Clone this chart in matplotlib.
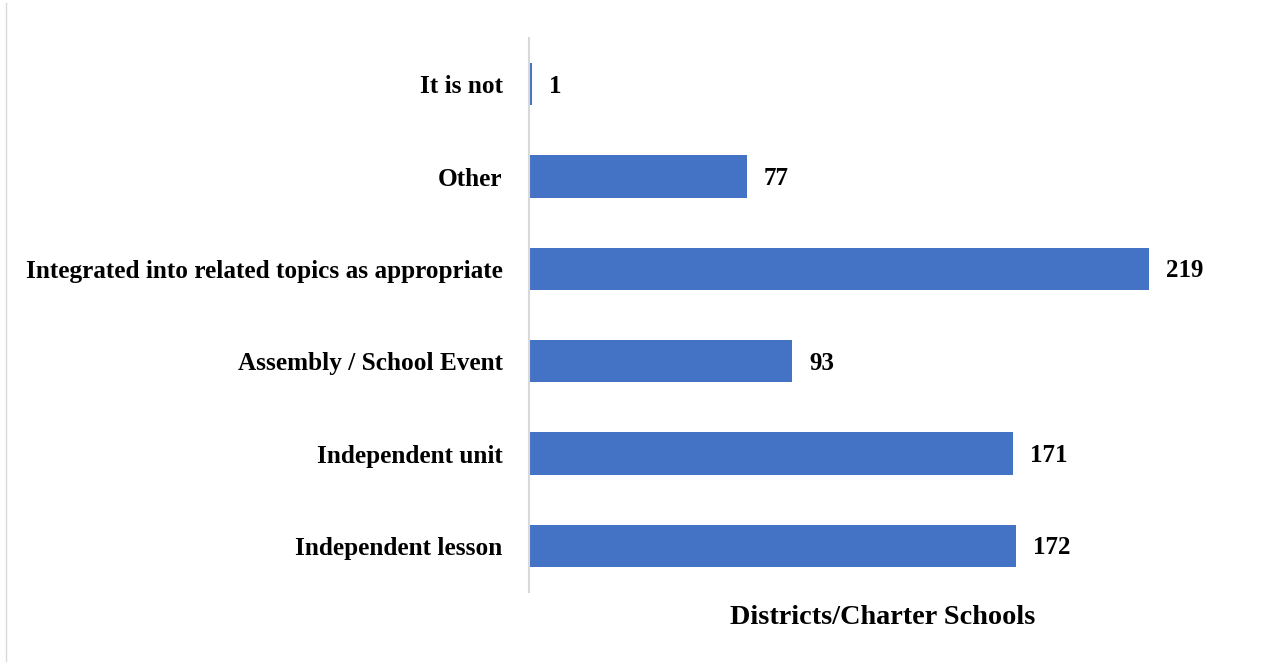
import matplotlib
matplotlib.use("Agg")
import matplotlib.pyplot as plt
from matplotlib.lines import Line2D

categories = ["Independent lesson", "Independent unit", "Assembly / School Event",
              "Integrated into related topics as appropriate", "Other", "It is not"]
values = [172, 171, 93, 219, 77, 1]
xlabel = "Districts/Charter Schools"
bar_color = "#4472C4"

plt.rcParams['font.family'] = ['Liberation Serif', 'DejaVu Serif']

fig = plt.figure(figsize=(12.68, 6.62), dpi=100)
ax = fig.add_axes([529/1268, 1 - 592/662, 708/1268, 554/662])

ypos = list(range(len(categories)))
ax.barh(ypos, values, height=0.455, color=bar_color)
ax.set_xlim(0, 250)
ax.set_ylim(-0.5, len(categories) - 0.5)
ax.set_yticks(ypos)
ax.set_yticklabels(categories, fontsize=18.2, fontweight='bold')
ax.tick_params(axis='y', length=0, pad=19)
ax.set_xticks([])
for s in ['top', 'right', 'bottom']:
    ax.spines[s].set_visible(False)
ax.spines['left'].set_color('#D9D9D9')
ax.spines['left'].set_linewidth(1.5)
ax.spines['left'].set_zorder(5)

for y, v in zip(ypos, values):
    ax.annotate(str(v), (v, y), xytext=(17, -2), textcoords='offset pixels',
                va='center', ha='left', fontsize=18, fontweight='bold')

ax.set_xlabel(xlabel, fontsize=20.3, fontweight='bold', labelpad=9)

fig.add_artist(Line2D([6/1268, 6/1268], [0, 1 - 3/662], transform=fig.transFigure,
                      color='#D9D9D9', linewidth=1))

fig.savefig("out.png", dpi=100)
